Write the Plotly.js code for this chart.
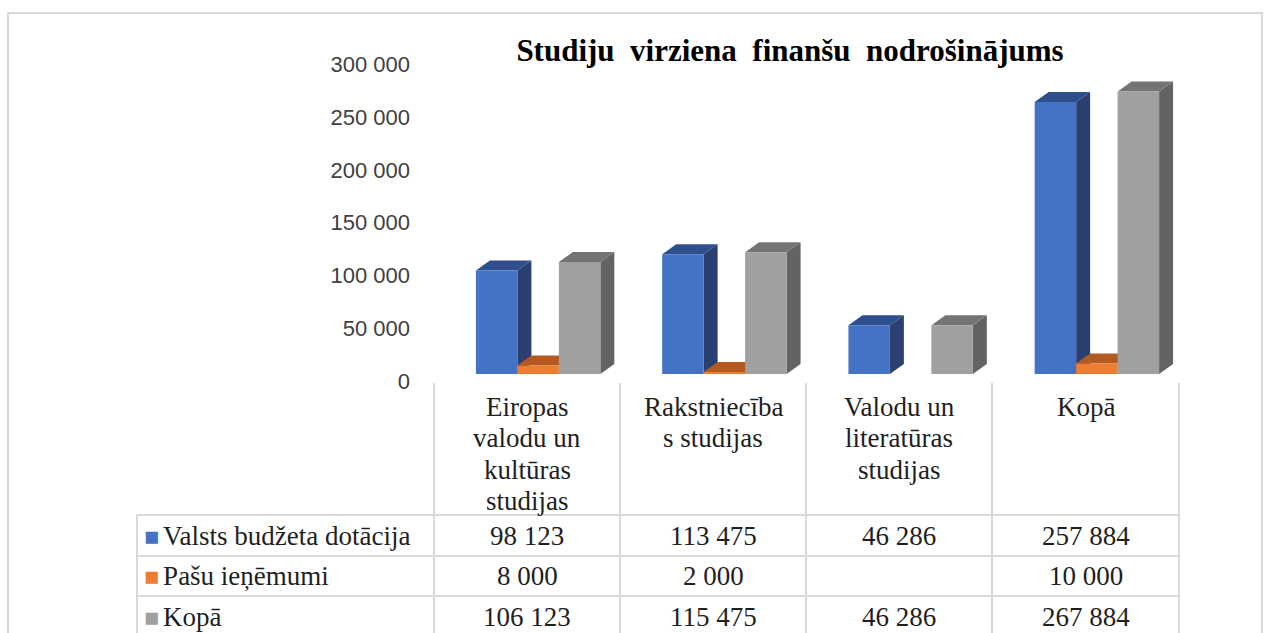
<!DOCTYPE html>
<html>
<head>
<meta charset="utf-8">
<script src="https://cdn.plot.ly/plotly-3.0.1.min.js"></script>
<style>
  html, body { margin: 0; padding: 0; background: #ffffff; }
  #chart { width: 1269px; height: 633px; }
</style>
</head>
<body>
<div id="chart"></div>
<script>
// ---------- data ----------
const categories = ['Eiropas valodu un kultūras studijas', 'Rakstniecības studijas', 'Valodu un literatūras studijas', 'Kopā'];
const headerLabels = ['Eiropas<br>valodu un<br>kultūras<br>studijas', 'Rakstniecība<br>s studijas', 'Valodu un<br>literatūras<br>studijas', 'Kopā'];
const seriesNames = ['Valsts budžeta dotācija', 'Pašu ieņēmumi', 'Kopā'];
const valstsBudzetaDotacija = [98123, 113475, 46286, 257884];
const pasuIenemumi = [8000, 2000, null, 10000];
const kopa = [106123, 115475, 46286, 267884];
const yTicks = [0, 50000, 100000, 150000, 200000, 250000, 300000];

// ---------- styles ----------
const W = 1269, H = 633;
const px = v => v / W;            // pixel -> paper x
const py = v => 1 - v / H;        // pixel -> paper y
const frontColors = ['#4472C4', '#ED7D31', '#A0A0A0'];
const sideColors  = ['#2B4071', '#A9561F', '#636363'];
const topColors   = ['#2F4E8C', '#B45A20', '#747474'];
const seriesValues = [valstsBudzetaDotacija, pasuIenemumi, kopa];
const serif = 'Liberation Serif';
const sans = 'Liberation Sans';

const plotLeft = 445, plotRight = 1190, zeroY = 374, topY = 57.5, yMax = 300000;
const bargap = 0.332;
const slotPx = (plotRight - plotLeft) / categories.length;
const depthX = 14 / slotPx;                       // in x units
const depthY = 10 * yMax / (zeroY - topY);        // in y units

const xIdx = categories.map((c, i) => i);

const traces = seriesValues.map((vals, s) => ({
  type: 'bar',
  name: seriesNames[s],
  x: xIdx,
  y: vals,
  marker: { color: frontColors[s], line: { width: 0 } },
  hoverinfo: 'skip',
  showlegend: false
}));

// 3D side and top faces derived from the same values
const shapes = [];
const groupW = 1 - bargap;
const barW = groupW / seriesValues.length;
seriesValues.forEach((vals, s) => {
  vals.forEach((v, i) => {
    if (v == null) return;
    const x0 = i - groupW / 2 + s * barW;
    const x1 = x0 + barW;
    shapes.push({
      type: 'path', xref: 'x', yref: 'y', layer: 'below',
      path: `M ${x1},0 L ${x1 + depthX},${depthY} L ${x1 + depthX},${v + depthY} L ${x1},${v} Z`,
      fillcolor: sideColors[s], line: { width: 0 }
    });
    shapes.push({
      type: 'path', xref: 'x', yref: 'y', layer: 'below',
      path: `M ${x0},${v} L ${x0 + depthX},${v + depthY} L ${x1 + depthX},${v + depthY} L ${x1},${v} Z`,
      fillcolor: topColors[s], line: { width: 0 }
    });
  });
});

// outer frame
const frameColor = '#D9D9D9';
shapes.push({ type: 'rect', xref: 'paper', yref: 'paper', x0: px(8), x1: px(1262), y0: py(13), y1: py(645),
  line: { color: frameColor, width: 2 }, fillcolor: 'rgba(0,0,0,0)', layer: 'below' });

// data table grid
const gridColor = '#D9D9D9';
const colEdges = [137, 434, 620, 806, 992, 1179];
const rowEdges = [515, 556, 596, 637];
const headerTop = 383;
const tableBottom = 640;
colEdges.forEach((cx, k) => {
  shapes.push({ type: 'line', xref: 'paper', yref: 'paper', x0: px(cx), x1: px(cx),
    y0: py(k === 0 ? rowEdges[0] : headerTop), y1: py(tableBottom),
    line: { color: gridColor, width: 2 } });
});
rowEdges.forEach(ry => {
  shapes.push({ type: 'line', xref: 'paper', yref: 'paper', x0: px(colEdges[0]), x1: px(colEdges[colEdges.length - 1]),
    y0: py(ry), y1: py(ry), line: { color: gridColor, width: 2 } });
});

// table texts
const fmt = v => v == null ? '' : String(v).replace(/\B(?=(\d{3})+(?!\d))/g, ' ');
const mkFont = () => ({ family: serif, size: 27, color: '#1f1f1f' });
const annotations = [];
const headerFirstLine = 407, headerLineStep = 31.3;
headerLabels.forEach((lab, i) => {
  const cx = (colEdges[i + 1] + colEdges[i + 2]) / 2;
  lab.split('<br>').forEach((line, k) => {
    annotations.push({ xref: 'paper', yref: 'paper', x: px(cx), y: py(headerFirstLine + k * headerLineStep),
      xanchor: 'center', yanchor: 'middle', text: line, showarrow: false, font: mkFont() });
  });
});
seriesNames.forEach((nm, s) => {
  const cy = (rowEdges[s] + rowEdges[s + 1]) / 2;
  annotations.push({ xref: 'paper', yref: 'paper', x: px(142), y: py(cy), xanchor: 'left', yanchor: 'middle',
    text: `<span style="color:${frontColors[s]};font-size:25px">■</span><span style="font-size:16px"> </span>${nm}`,
    showarrow: false, font: mkFont() });
  seriesValues[s].forEach((v, i) => {
    const cx = (colEdges[i + 1] + colEdges[i + 2]) / 2;
    annotations.push({ xref: 'paper', yref: 'paper', x: px(cx), y: py(cy), xanchor: 'center', yanchor: 'middle',
      text: fmt(v), showarrow: false, font: mkFont() });
  });
});

const layout = {
  width: W, height: H,
  margin: { l: 0, r: 0, t: 0, b: 0 },
  font: { family: serif, size: 27, color: '#1f1f1f' },
  paper_bgcolor: '#ffffff', plot_bgcolor: 'rgba(0,0,0,0)',
  separators: ', ',
  barmode: 'group', bargap: bargap, bargroupgap: 0,
  title: {
    text: '<b>Studiju  virziena  finanšu  nodrošinājums</b>',
    xref: 'container', yref: 'container',
    x: 790 / W, y: py(50), xanchor: 'center', yanchor: 'middle',
    font: { family: serif, size: 31, color: '#000000' }
  },
  xaxis: {
    domain: [px(plotLeft), px(plotRight)],
    range: [-0.5, categories.length - 0.5],
    showticklabels: false, showgrid: false, zeroline: false, showline: false, ticks: '',
    fixedrange: true
  },
  yaxis: {
    domain: [py(zeroY), py(topY)],
    range: [0, yMax],
    tickvals: yTicks,
    tickformat: ',d',
    showgrid: false, zeroline: false, showline: false, ticks: '',
    ticklabelstandoff: 34,
    ticklabelshift: 7,
    tickfont: { family: sans, size: 22, color: '#404040' },
    fixedrange: true
  },
  shapes: shapes,
  annotations: annotations
};

Plotly.newPlot('chart', traces, layout, { displayModeBar: false, staticPlot: true });
</script>
</body>
</html>
